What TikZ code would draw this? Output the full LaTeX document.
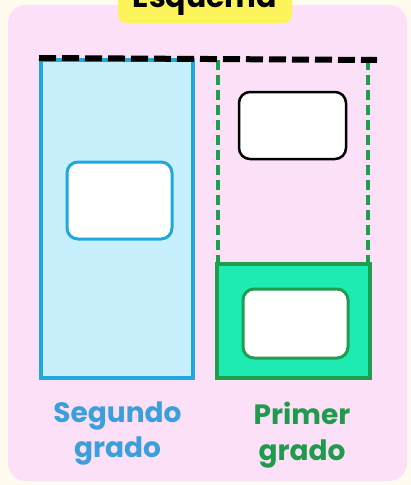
\documentclass[tikz,border=0pt]{standalone}
\usepackage{fontspec}
\setmainfont{Poppins}
\usetikzlibrary{positioning}
\definecolor{cream}{HTML}{FFFBEF}
\definecolor{pinkbg}{HTML}{FCE0F8}
\definecolor{hilite}{HTML}{FDF45C}
\definecolor{skyline}{HTML}{1EA8DC}
\definecolor{skyfill}{HTML}{C8EFFC}
\definecolor{skytext}{HTML}{3A9FDA}
\definecolor{grassline}{HTML}{1F9E4F}
\definecolor{mintfill}{HTML}{1EEBB2}
\definecolor{grasstext}{HTML}{219A4D}

\begin{document}
\begin{tikzpicture}[x=1pt,y=-1pt,every node/.style={inner sep=0pt},
  box/.style={draw,rectangle,line width=4pt},
  slot/.style={draw,rectangle,rounded corners=11pt,fill=white,line width=3pt},
  greendash/.style={grassline,line width=4pt,dash pattern=on 10pt off 5pt},
  label/.style={font=\fontsize{28}{35}\selectfont\bfseries,align=center}]
\useasboundingbox (0,0) rectangle (411,485);
\fill[cream] (0,0) rectangle (411,485);
\fill[pinkbg,rounded corners=18pt] (8,5) rectangle (407,481);
% title
\node[fill=hilite,rounded corners=8pt,minimum width=174pt,minimum height=40pt] (titlebg) at (205,3) {};
\node[font=\fontsize{30}{30}\selectfont\bfseries,anchor=base] (title) at (205,7) {Esquema};
% second degree
\node[box,draw=skyline,fill=skyfill,minimum width=152pt,minimum height=318pt] (second) at (117,219) {};
\node[slot,draw=skyline,minimum width=105pt,minimum height=77pt] (secondslot) at (119.5,200.5) {};
% first degree
\node[rectangle,minimum width=150pt,minimum height=204pt] (upper) at (293,162) {};
\node[slot,draw=black,line width=2.5pt,minimum width=107pt,minimum height=67pt] (upperslot) at (292.5,125.5) {};
\node[box,draw=grassline,fill=mintfill,minimum width=153pt,minimum height=114pt] (first) at (293.5,321) {};
\node[slot,draw=grassline,minimum width=105pt,minimum height=69pt] (firstslot) at (295.5,323.5) {};
\draw[greendash] (upper.north west) -- (upper.south west);
\draw[greendash] (upper.north east) -- (upper.south east);
\coordinate (lineend) at (377,60);
\draw[line width=6pt,dash pattern=on 17pt off 6pt] (second.north west) -- (lineend);
% labels
\node[label,skytext] (secondlabel) at (117.5,433) {Segundo\\grado};
\node[label,grasstext,font=\fontsize{28}{36}\selectfont\bfseries] (firstlabel) at (302,435) {Primer\\grado};
\end{tikzpicture}
\end{document}
